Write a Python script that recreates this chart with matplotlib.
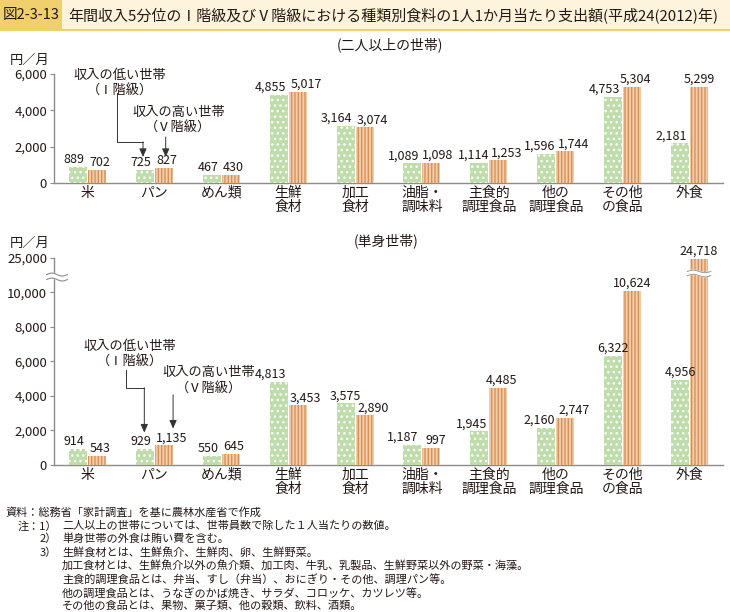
import numpy as np
import matplotlib
matplotlib.use('Agg')
import matplotlib.pyplot as plt
from matplotlib.patches import Rectangle
from matplotlib.transforms import blended_transform_factory

plt.rcParams['font.family'] = ['Noto Sans CJK JP', 'DejaVu Sans']
plt.rcParams['hatch.linewidth'] = 1.0

# data
categories = ['米', 'パン', 'めん類', '生鮮\n食材', '加工\n食材', '油脂・\n調味料',
              '主食的\n調理食品', '他の\n調理食品', 'その他\nの食品', '外食']
multi_low = [889, 725, 467, 4855, 3164, 1089, 1114, 1596, 4753, 2181]
multi_high = [702, 827, 430, 5017, 3074, 1098, 1253, 1744, 5304, 5299]
single_low = [914, 929, 550, 4813, 3575, 1187, 1945, 2160, 6322, 4956]
single_high = [543, 1135, 645, 3453, 2890, 997, 4485, 2747, 10624, 24718]

# label shifts (pixels) so neighbouring numbers don't collide
multi_dx_low = [-4, -4, -4, -8, -9, -9, -6, -7, -9, -9]
multi_dx_high = [3, 3, 3, 9, 8, 6, 8, 8, 3, 0]
single_dx_low = [-4, -4, -4, -8, 0, -10, -8, -7, 0, 0]
single_dx_high = [3, 8, 3, 8, 9, 4, 3, 9, 0, 0]

TXT = '#231815'
GREEN = '#bfdcab'
ORANGE = '#f3cda8'
STRIPE = '#d8915b'
AXC = '#8c8c8c'
W = 0.27

W_PX, H_PX = 730, 612


def fx(px):
    return px / W_PX


def fy(py):
    return 1 - py / H_PX


def axes_box(left, top, right, bottom):
    return [fx(left), fy(bottom), fx(right) - fx(left), fy(top) - fy(bottom)]


def style_axes(ax):
    for s in ['top', 'right']:
        ax.spines[s].set_visible(False)
    for s in ['left', 'bottom']:
        ax.spines[s].set_color(AXC)
        ax.spines[s].set_linewidth(1.0)
    ax.tick_params(axis='y', length=3, width=0.8, color=AXC, labelsize=9.5,
                   labelcolor=TXT, pad=2)
    ax.tick_params(axis='x', length=0, labelsize=10, labelcolor=TXT, pad=2)
    ax.set_xlim(-0.5, 9.5)
    ax.set_xticks(np.arange(len(categories)))
    ax.set_xticklabels(categories, linespacing=1.05, va='top')


def draw_bars(ax, low, high, dx_low, dx_high):
    x = np.arange(len(categories))
    b1 = ax.bar(x - W / 2 - 0.007, low, W, color=GREEN, edgecolor='white',
                linewidth=0, hatch='...', zorder=3)
    b2 = ax.bar(x + W / 2 + 0.007, high, W, color=ORANGE, edgecolor=STRIPE,
                linewidth=0, hatch='|||||', zorder=3)
    for bars, vals, dxs in [(b1, low, dx_low), (b2, high, dx_high)]:
        for r, v, d in zip(bars, vals, dxs):
            ax.annotate(f'{v:,}', (r.get_x() + r.get_width() / 2, v),
                        xytext=(d, 1), textcoords='offset pixels',
                        ha='center', va='bottom', fontsize=9, color=TXT,
                        zorder=6)
    return b1, b2


def elbow_arrow(ax, pts):
    xs = [p[0] for p in pts]
    ys = [p[1] for p in pts]
    ax.plot(xs[:-1], ys[:-1], color='#333333', lw=0.7, clip_on=False, zorder=7)
    ax.annotate('', xy=pts[-1], xytext=pts[-2],
                arrowprops=dict(arrowstyle='-|>,head_length=0.5,head_width=0.22',
                                color='#333333', lw=0.7, shrinkA=0, shrinkB=0),
                zorder=7)


fig = plt.figure(figsize=(7.3, 6.12), dpi=100)

# header band
fig.patches.append(Rectangle((0, fy(30)), 1, fy(0) - fy(30), transform=fig.transFigure,
                             facecolor='#fdf4db', edgecolor='none'))
fig.patches.append(Rectangle((0, fy(30)), fx(62), fy(0) - fy(30), transform=fig.transFigure,
                             facecolor='#f0d06c', edgecolor='none'))
fig.patches.append(Rectangle((0, fy(31)), 1, fy(29) - fy(31), transform=fig.transFigure,
                             facecolor='#f0d06c', edgecolor='none'))
fig.text(fx(31), fy(15), '図2-3-13', ha='center', va='center', fontsize=10.5, color=TXT)
fig.text(fx(68), fy(15),
         '年間収入5分位のⅠ階級及びⅤ階級における種類別食料の1人1か月当たり支出額(平成24(2012)年)',
         ha='left', va='center', fontsize=10.8, color=TXT)

# ---- top chart: two-or-more-person households
ax1 = fig.add_axes(axes_box(54, 74, 723, 183))
style_axes(ax1)
ax1.set_ylim(0, 6000)
ax1.set_yticks([0, 2000, 4000, 6000])
ax1.set_yticklabels(['0', '2,000', '4,000', '6,000'])
draw_bars(ax1, multi_low, multi_high, multi_dx_low, multi_dx_high)

fig.text(fx(390), fy(45), '(二人以上の世帯)', ha='center', va='center', fontsize=10, color=TXT)
fig.text(fx(30), fy(60), '円／月', ha='center', va='center', fontsize=9.5, color=TXT)

ax1.text(0.49, 5480, '収入の低い世帯\n（Ⅰ階級）', ha='center', va='center',
         fontsize=9.5, color=TXT, linespacing=1.3)
elbow_arrow(ax1, [(0.44, 4950), (0.44, 2260), (0.83, 2260), (0.83, 1430)])
ax1.text(1.36, 3440, '収入の高い世帯\n（Ⅴ階級）', ha='center', va='center',
         fontsize=9.5, color=TXT, linespacing=1.3)
elbow_arrow(ax1, [(1.17, 2530), (1.17, 1430)])

# ---- bottom chart: single households, with broken axis above 10,000
K = 0.1333


def fwd(y):
    y = np.asarray(y, dtype=float)
    return np.where(y <= 10000, y, 10000 + (y - 10000) * K)


def inv(y):
    y = np.asarray(y, dtype=float)
    return np.where(y <= 10000, y, 10000 + (y - 10000) / K)


ax2 = fig.add_axes(axes_box(54, 258, 723, 465))
ax2.set_yscale('function', functions=(fwd, inv))
style_axes(ax2)
ax2.set_ylim(0, 25000)
ax2.set_yticks([0, 2000, 4000, 6000, 8000, 10000, 25000])
ax2.set_yticklabels(['0', '2,000', '4,000', '6,000', '8,000', '10,000', '25,000'])
ax2.yaxis.set_minor_locator(matplotlib.ticker.NullLocator())
b1, b2 = draw_bars(ax2, single_low, single_high, single_dx_low, single_dx_high)

fig.text(fx(386), fy(241), '(単身世帯)', ha='center', va='center', fontsize=10, color=TXT)
fig.text(fx(30), fy(243), '円／月', ha='center', va='center', fontsize=9.5, color=TXT)

ax2.text(0.64, 6400, '収入の低い世帯\n（Ⅰ階級）', ha='center', va='center',
         fontsize=9.5, color=TXT, linespacing=1.3)
elbow_arrow(ax2, [(0.58, 5520), (0.58, 4480), (0.85, 4480), (0.85, 1880)])
ax2.text(1.82, 4880, '収入の高い世帯\n（Ⅴ階級）', ha='center', va='center',
         fontsize=9.5, color=TXT, linespacing=1.3)
elbow_arrow(ax2, [(1.28, 4070), (1.28, 2110)])

# break marks: on the y axis and on the tallest bar
t = np.linspace(0, 1, 40)
ya = 0.908
xa = -0.011 + t * 0.031
wave = 0.007 * np.sin(2 * np.pi * t)
ax2.fill(np.r_[xa, xa[::-1]], np.r_[ya + 0.012 + wave, (ya - 0.012 + wave)[::-1]],
         color='white', transform=ax2.transAxes, clip_on=False, zorder=5)
for off in (0.012, -0.012):
    ax2.plot(xa, ya + off + wave, color=AXC, lw=0.8, transform=ax2.transAxes,
             clip_on=False, zorder=6)

bar = b2[-1]
tb = blended_transform_factory(ax2.transData, ax2.transAxes)
xb = bar.get_x() - 0.04 + t * (bar.get_width() + 0.08)
yb = 0.925
wb = 0.006 * np.sin(2 * np.pi * t)
ax2.fill(np.r_[xb, xb[::-1]], np.r_[yb + 0.01 + wb, (yb - 0.01 + wb)[::-1]],
         color='white', transform=tb, clip_on=False, zorder=5)
for off in (0.01, -0.01):
    ax2.plot(xb, yb + off + wb, color='#9a9a9a', lw=0.7, transform=tb,
             clip_on=False, zorder=6)

# footnotes
notes_y = [512, 526, 539, 553, 566, 579, 593, 606]
fig.text(fx(6), fy(notes_y[0]), '資料：総務省「家計調査」を基に農林水産省で作成',
         va='center', fontsize=8, color=TXT)
fig.text(fx(18), fy(notes_y[1]), '注：1）', va='center', fontsize=8, color=TXT)
for py, num in zip(notes_y[2:4], ['2）', '3）']):
    fig.text(fx(40), fy(py), num, va='center', fontsize=8, color=TXT)
note_body = [
    '二人以上の世帯については、世帯員数で除した１人当たりの数値。',
    '単身世帯の外食は賄い費を含む。',
    '生鮮食材とは、生鮮魚介、生鮮肉、卵、生鮮野菜。',
    '加工食材とは、生鮮魚介以外の魚介類、加工肉、牛乳、乳製品、生鮮野菜以外の野菜・海藻。',
    '主食的調理食品とは、弁当、すし（弁当）、おにぎり・その他、調理パン等。',
    '他の調理食品とは、うなぎのかば焼き、サラダ、コロッケ、カツレツ等。',
    'その他の食品とは、果物、菓子類、他の穀類、飲料、酒類。',
]
for py, s in zip(notes_y[1:], note_body):
    fig.text(fx(62), fy(py), s, va='center', fontsize=8, color=TXT)

fig.savefig('out.png', dpi=100)
